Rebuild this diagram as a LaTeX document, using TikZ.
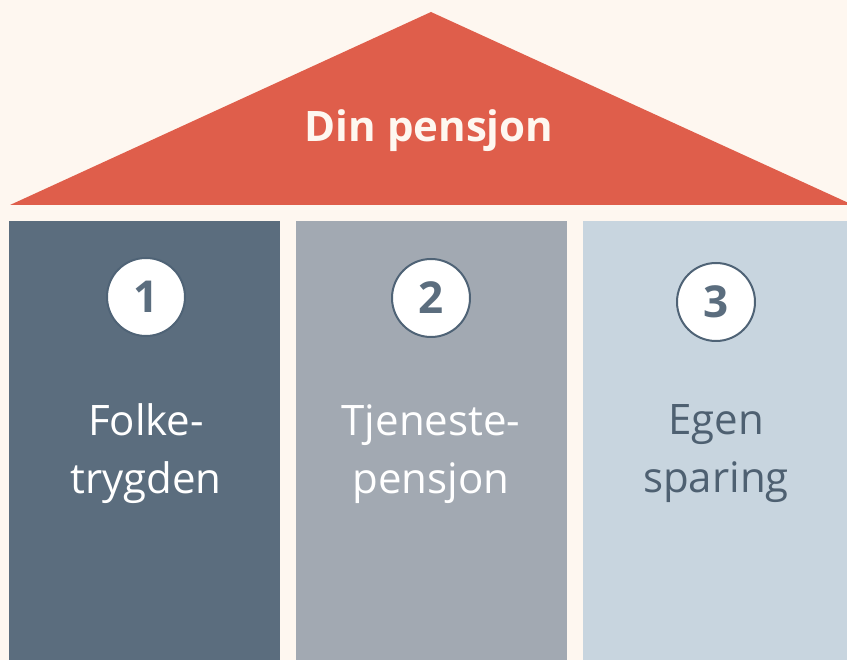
\documentclass[tikz,border=0pt]{standalone}
\usepackage{fontspec}
\setmainfont{Open Sans}
\definecolor{bg}{HTML}{FEF7F0}
\definecolor{roof}{HTML}{DF5E4B}
\definecolor{colA}{HTML}{5B6D7E}
\definecolor{colB}{HTML}{A2A9B2}
\definecolor{colC}{HTML}{C8D5DF}
\definecolor{ring}{HTML}{4F6376}
\definecolor{dark}{HTML}{4E6071}
\begin{document}
\begin{tikzpicture}[x=1pt,y=-1pt,
  numc/.style={circle,fill=white,draw=ring,line width=2pt,minimum size=78pt,inner sep=0pt,font=\fontsize{44}{44}\selectfont\bfseries,text=colA},
  lab/.style={align=center,font=\fontsize{42}{58}\selectfont}]
\fill[bg] (0,0) rectangle (847,660);
\useasboundingbox (0,0) rectangle (847,660);
\fill[roof] (10,205) -- (431,12) -- (853,205) -- cycle;
\node[font=\fontsize{42}{42}\selectfont\bfseries,text=bg] (title) at (429,131) {Din pensjon};
\fill[colA] (9,221) rectangle (280,660);
\fill[colB] (296,221) rectangle (567,660);
\fill[colC] (583,221) rectangle (847,660);
\node[numc] (n1) at (146,297) {1};
\node[numc] (n2) at (431,298) {2};
\node[numc] (n3) at (716,302) {3};
\node[lab,text=white] (l1) at (146,454) {Folke-\\trygden};
\node[lab,text=white] (l2) at (431,454) {Tjeneste-\\pensjon};
\node[lab,text=dark] (l3) at (716,454) {Egen\\sparing};
\end{tikzpicture}
\end{document}
